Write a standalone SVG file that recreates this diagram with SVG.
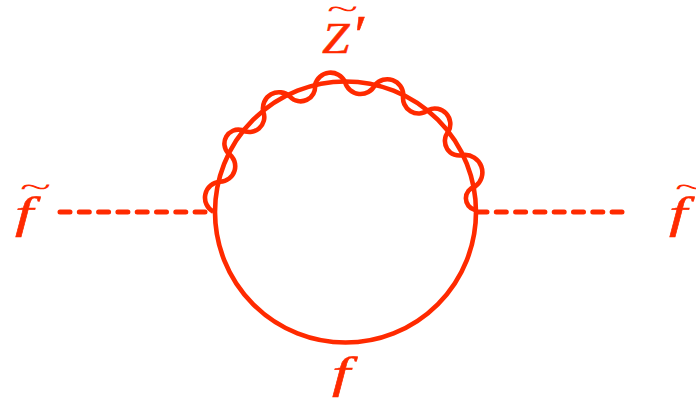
<svg xmlns="http://www.w3.org/2000/svg" width="696" height="400" viewBox="0 0 696 400">
<style>
.l{fill:none;stroke:#ff2a00;stroke-width:4.6}
.d{stroke-linecap:round;stroke-dasharray:10 9.3;stroke-width:5}
.t{fill:#ff2a00;stroke:#ff2a00;stroke-width:.5;font-family:"Liberation Serif",serif;font-style:italic;font-size:45px}
.a{fill:#ff2a00;font-family:"Liberation Serif",serif;font-size:36px}
</style>
<rect width="696" height="400" fill="#fff"/>
<g id="connectors">
<line class="l d" x1="60" y1="212" x2="205" y2="212"/>
<line class="l d" x1="477" y1="212" x2="622" y2="212"/>
<circle class="l" cx="345.5" cy="212" r="130.5"/>
<path class="l" d="M213.3 211.7A16 16 0 0 1 220 181.7A15.5 15.5 0 0 0 228.3 153.3A14 14 0 0 1 241.7 130A15 15 0 0 0 263.3 111.7A16 16 0 0 1 290 96.7A14.5 14.5 0 0 0 315 85A16 16 0 0 1 345 81.7A16 16 0 0 0 375 85A16 16 0 0 1 403.3 95A15.5 15.5 0 0 0 428.3 110A15.5 15.5 0 0 1 448.3 131.7A14.5 14.5 0 0 0 463.3 155A17.5 17.5 0 0 1 475 186.7A12 12 0 0 0 475 210"/>
</g>
<g id="node-left"><text class="t" transform="translate(15 228) scale(1.45 1)">f</text><text class="a" transform="translate(20 196.5) scale(1.6 .8)">~</text></g>
<g id="node-right"><text class="t" transform="translate(669 228) scale(1.45 1)">f</text><text class="a" transform="translate(675 196.5) scale(1.6 .8)">~</text></g>
<g id="node-top"><text class="t" transform="translate(322 53) scale(1.1 1)">Z<tspan font-size="54" dx="1">′</tspan></text><text class="a" transform="translate(327 19) scale(1.6 .8)">~</text></g>
<g id="node-bottom"><text class="t" transform="translate(332 388) scale(1.45 1)">f</text></g>
</svg>
